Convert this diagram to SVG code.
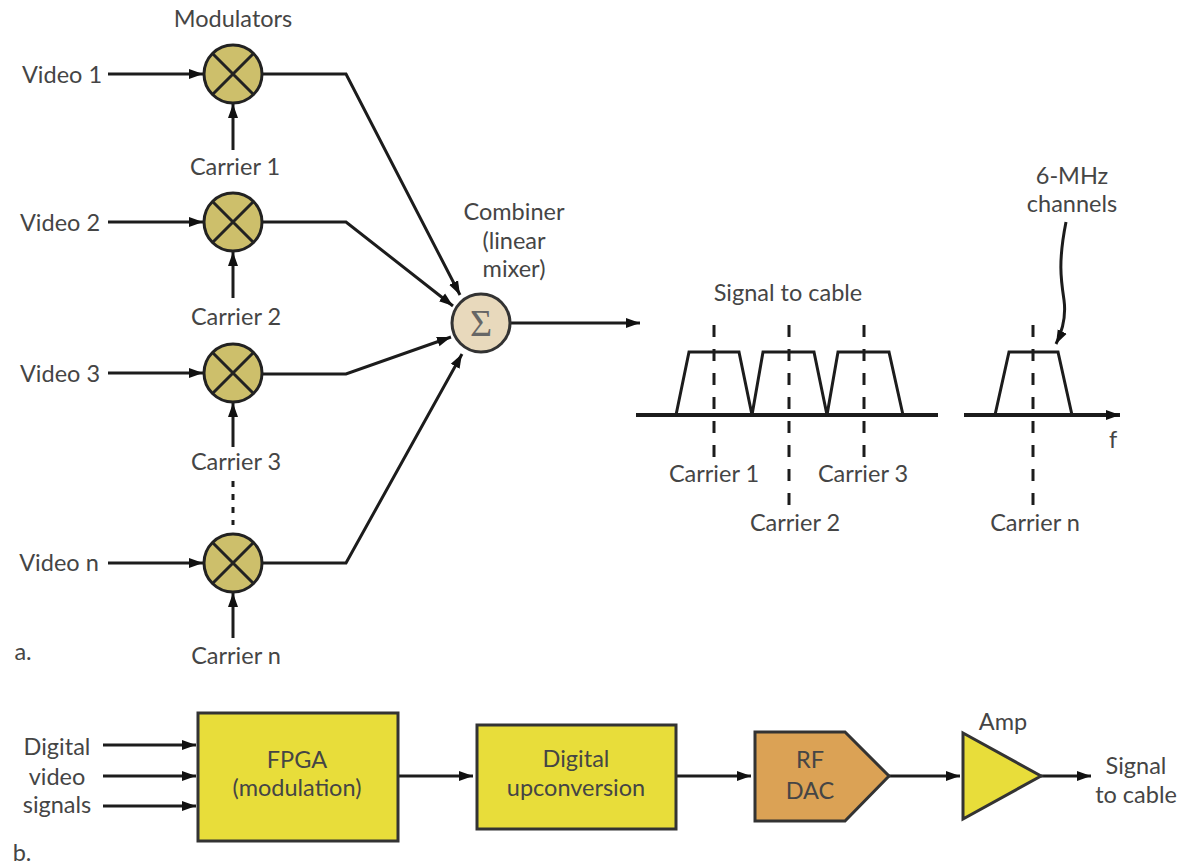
<svg xmlns="http://www.w3.org/2000/svg" width="1188" height="865" viewBox="0 0 1188 865">
<style>
text{font-family:"Lato","Liberation Sans",sans-serif;font-size:23.5px;fill:#454545;text-anchor:middle}
.w{stroke:#1c1c1c;stroke-width:3;fill:none}
.a{marker-end:url(#arr)}
.d{stroke:#1c1c1c;stroke-width:3;fill:none;stroke-dasharray:12 12}
.mod circle{fill:#cdbf6b;stroke:#222;stroke-width:3}
.mod path{stroke:#222;stroke-width:3;fill:none}
.box{fill:#e8dd3a;stroke:#333;stroke-width:3}
</style>
<defs>
<marker id="arr" markerUnits="userSpaceOnUse" markerWidth="16" markerHeight="12" refX="14" refY="6" orient="auto"><path d="M0 1L14 6L0 11Z" fill="#111"/></marker>
</defs>
<rect width="1188" height="865" fill="#fff"/>
<g id="connectors">
<path class="w a" d="M108 74H203"/>
<path class="w a" d="M108 222H203"/>
<path class="w a" d="M108 373H203"/>
<path class="w a" d="M108 563H203"/>
<path class="w a" d="M233 150V104"/>
<path class="w a" d="M233 298V252"/>
<path class="w a" d="M233 447V403"/>
<path class="w a" d="M233 638V593"/>
<path class="d" d="M233 481V525" style="stroke-dasharray:6 7"/>
<path class="w a" d="M262 74H346L460 295"/>
<path class="w a" d="M262 222H346L453 306"/>
<path class="w a" d="M262 374H346L451 337"/>
<path class="w a" d="M262 563H346L462 354"/>
<path class="w a" d="M510 323H640"/>
<path class="w a" d="M398 776H473"/>
<path class="w a" d="M676 776H751"/>
<path class="w a" d="M889 776H960"/>
<path class="w a" d="M1041 776H1091"/>
<path class="w a" d="M103 745H196"/>
<path class="w a" d="M103 776H196"/>
<path class="w a" d="M103 806H196"/>
<path class="w a" d="M1066 222C1058 262 1061 280 1064 300C1066 315 1063 330 1056 344"/>
</g>
<g id="spectrum">
<path d="M636 415H938" stroke="#1c1c1c" stroke-width="4" fill="none"/>
<path class="a" d="M964 415H1120" stroke="#1c1c1c" stroke-width="4" fill="none"/>
<path class="w" d="M676 415L689 352H739L752 415L763 352H814L827 415L838 352H889L903 415"/>
<path class="w" d="M995 415L1009 352H1058L1072 415"/>
<path class="d" d="M714 325V457"/>
<path class="d" d="M789 325V505"/>
<path class="d" d="M864 325V457"/>
<path class="d" d="M1033 325V505"/>
</g>
<g id="mod1" class="mod"><circle cx="233" cy="74" r="29"/><path d="M212.500 53.500L253.500 94.500M253.500 53.500L212.500 94.500"/></g>
<g id="mod2" class="mod"><circle cx="233" cy="222" r="29"/><path d="M212.500 201.500L253.500 242.500M253.500 201.500L212.500 242.500"/></g>
<g id="mod3" class="mod"><circle cx="233" cy="373" r="29"/><path d="M212.500 352.500L253.500 393.500M253.500 352.500L212.500 393.500"/></g>
<g id="modn" class="mod"><circle cx="233" cy="563" r="29"/><path d="M212.500 542.500L253.500 583.500M253.500 542.500L212.500 583.500"/></g>
<g id="combiner"><circle cx="481" cy="323" r="29" fill="#e8d9bc" stroke="#333" stroke-width="3"/><text x="481" y="336" style="font-family:'Liberation Serif',serif;font-size:38px;fill:#666">Σ</text></g>
<g id="fpga"><rect class="box" x="198" y="713" width="200" height="128"/><text x="297" y="768">FPGA</text><text x="297" y="796">(modulation)</text></g>
<g id="upconv"><rect class="box" x="477" y="725" width="199" height="104"/><text x="576" y="767">Digital</text><text x="576" y="796">upconversion</text></g>
<g id="dac"><path d="M755 732H845L889 776L845 821H755Z" fill="#dba255" stroke="#333" stroke-width="3"/><text x="810" y="768">RF</text><text x="810" y="799">DAC</text></g>
<g id="amp"><path d="M963 733L1041 776L963 819Z" fill="#e8dd3a" stroke="#333" stroke-width="3"/></g>
<g id="labels">
<text x="233" y="27">Modulators</text>
<text x="62" y="83">Video 1</text>
<text x="60" y="231">Video 2</text>
<text x="60" y="382">Video 3</text>
<text x="59" y="571">Video n</text>
<text x="235" y="175">Carrier 1</text>
<text x="236" y="325">Carrier 2</text>
<text x="236" y="470">Carrier 3</text>
<text x="236" y="664">Carrier n</text>
<text x="514" y="220">Combiner</text>
<text x="514" y="249">(linear</text>
<text x="514" y="277">mixer)</text>
<text x="788" y="301">Signal to cable</text>
<text x="1072" y="184">6-MHz</text>
<text x="1072" y="212">channels</text>
<text x="714" y="482">Carrier 1</text>
<text x="863" y="482">Carrier 3</text>
<text x="795" y="531">Carrier 2</text>
<text x="1035" y="531">Carrier n</text>
<text x="1113" y="448">f</text>
<text x="23" y="660">a.</text>
<text x="22" y="861">b.</text>
<text x="57" y="755">Digital</text>
<text x="57" y="785">video</text>
<text x="57" y="813">signals</text>
<text x="1003" y="730">Amp</text>
<text x="1136" y="774">Signal</text>
<text x="1136" y="803">to cable</text>
</g>
</svg>
